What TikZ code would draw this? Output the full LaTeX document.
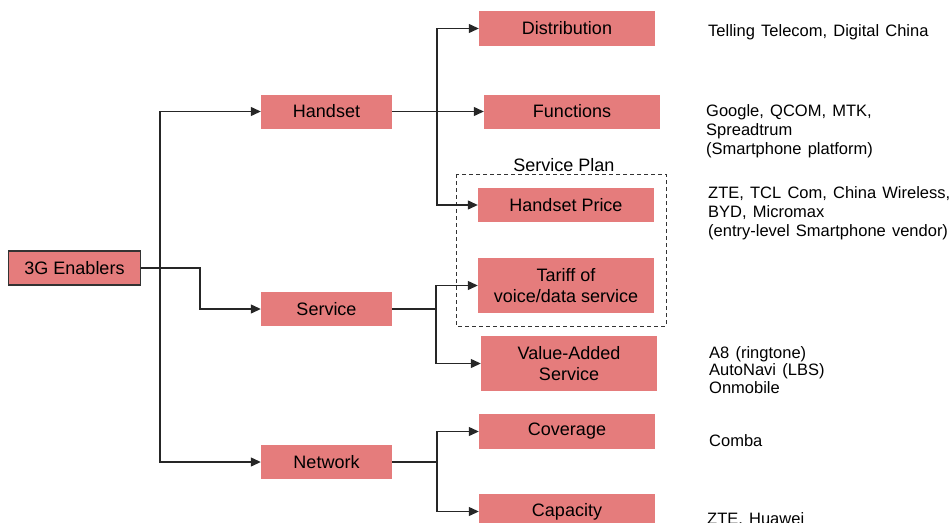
\documentclass[tikz,border=0pt]{standalone}
\usepackage{fontspec}
\setmainfont{Liberation Sans}
\newfontfamily\sidefont[WordSpace=1.35]{Liberation Sans}
\usetikzlibrary{arrows.meta}
\definecolor{boxpink}{HTML}{E57C7C}
\begin{document}
\begin{tikzpicture}[x=1pt,y=-1pt,
  box/.style={fill=boxpink, minimum width=176pt, minimum height=34pt, inner sep=0pt,
    font=\fontsize{18}{21}\selectfont, align=center, text=black},
  lbox/.style={box, minimum width=131pt},
  side/.style={anchor=base west, inner sep=0pt, font=\sidefont\fontsize{16.5}{19}\selectfont},
  conn/.style={line width=1.2pt, draw=black!85},
  arr/.style={conn, -{Triangle[length=10pt,width=9pt]}}]
\useasboundingbox (0,0) rectangle (949,522);
\clip (0,0) rectangle (949,522);

% dashed service plan frame
\coordinate (spa) at (456,174);
\coordinate (spb) at (666,326);
\draw[line width=1pt, dash pattern=on 4pt off 3pt, draw=black!80] (spa) rectangle (spb);
\node[anchor=base, inner sep=0pt, font=\fontsize{18}{21}\selectfont] (spl) at (564,171) {Service Plan};

% boxes
\node[lbox, draw=black!80, line width=1.1pt, minimum width=132pt] (en) at (74.5,268) {3G Enablers};
\node[lbox] (hs) at (326.5,111.5) {Handset};
\node[lbox] (sv) at (326.5,309) {Service};
\node[lbox] (nw) at (326.5,462) {Network};
\node[box, minimum height=35pt] (dist) at (567,28.5) {Distribution};
\node[box] (func) at (572,111.5) {Functions};
\node[box] (hp) at (566,205) {Handset Price};
\node[box, minimum height=55pt] (tar) at (566,285.5) {Tariff of\\voice/data service};
\node[box, minimum height=55pt] (vas) at (569,363.5) {Value-Added\\Service};
\node[box, minimum height=35pt] (cov) at (567,431.5) {Coverage};
\node[box, minimum height=35pt] (cap) at (567,511.5) {Capacity};

% connectors from 3G Enablers
\coordinate (tr) at (160,268);
\coordinate (sj) at (200,268);
\draw[arr] (en.east) -- (sj) |- (sv.west);
\draw[arr] (tr) |- (hs.west);
\draw[arr] (tr) |- (nw.west);

% handset
\coordinate (hj) at (437,111.5);
\draw[conn] (hs.east) -- (hj);
\draw[arr] (hj) |- (dist.west);
\draw[arr] (hj) |- (func.west);
\draw[arr] (hj) |- (hp.west);

% service
\coordinate (svj) at (436,309);
\draw[conn] (sv.east) -- (svj);
\draw[arr] (svj) |- (tar.west);
\draw[arr] (svj) |- (vas.west);

% network
\coordinate (nj) at (437,462);
\draw[conn] (nw.east) -- (nj);
\draw[arr] (nj) |- (cov.west);
\draw[arr] (nj) |- (cap.west);

% side texts
\node[side] (t1) at (708,36) {Telling Telecom, Digital China};
\node[side] (g1) at (706,116) {Google, QCOM, MTK,};
\node[side] (g2) at (706,135) {Spreadtrum};
\node[side] (g3) at (706,154) {(Smartphone platform)};
\node[side] (z1) at (708,198) {ZTE, TCL Com, China Wireless,};
\node[side] (z2) at (708,217) {BYD, Micromax};
\node[side] (z3) at (708,236) {(entry-level Smartphone vendor)};
\node[side] (a1) at (709,358) {A8 (ringtone)};
\node[side] (a2) at (709,375.5) {AutoNavi (LBS)};
\node[side] (a3) at (709,393) {Onmobile};
\node[side] (c1) at (709,446) {Comba};
\node[side] (h1) at (707,524) {ZTE, Huawei};
\end{tikzpicture}
\end{document}
